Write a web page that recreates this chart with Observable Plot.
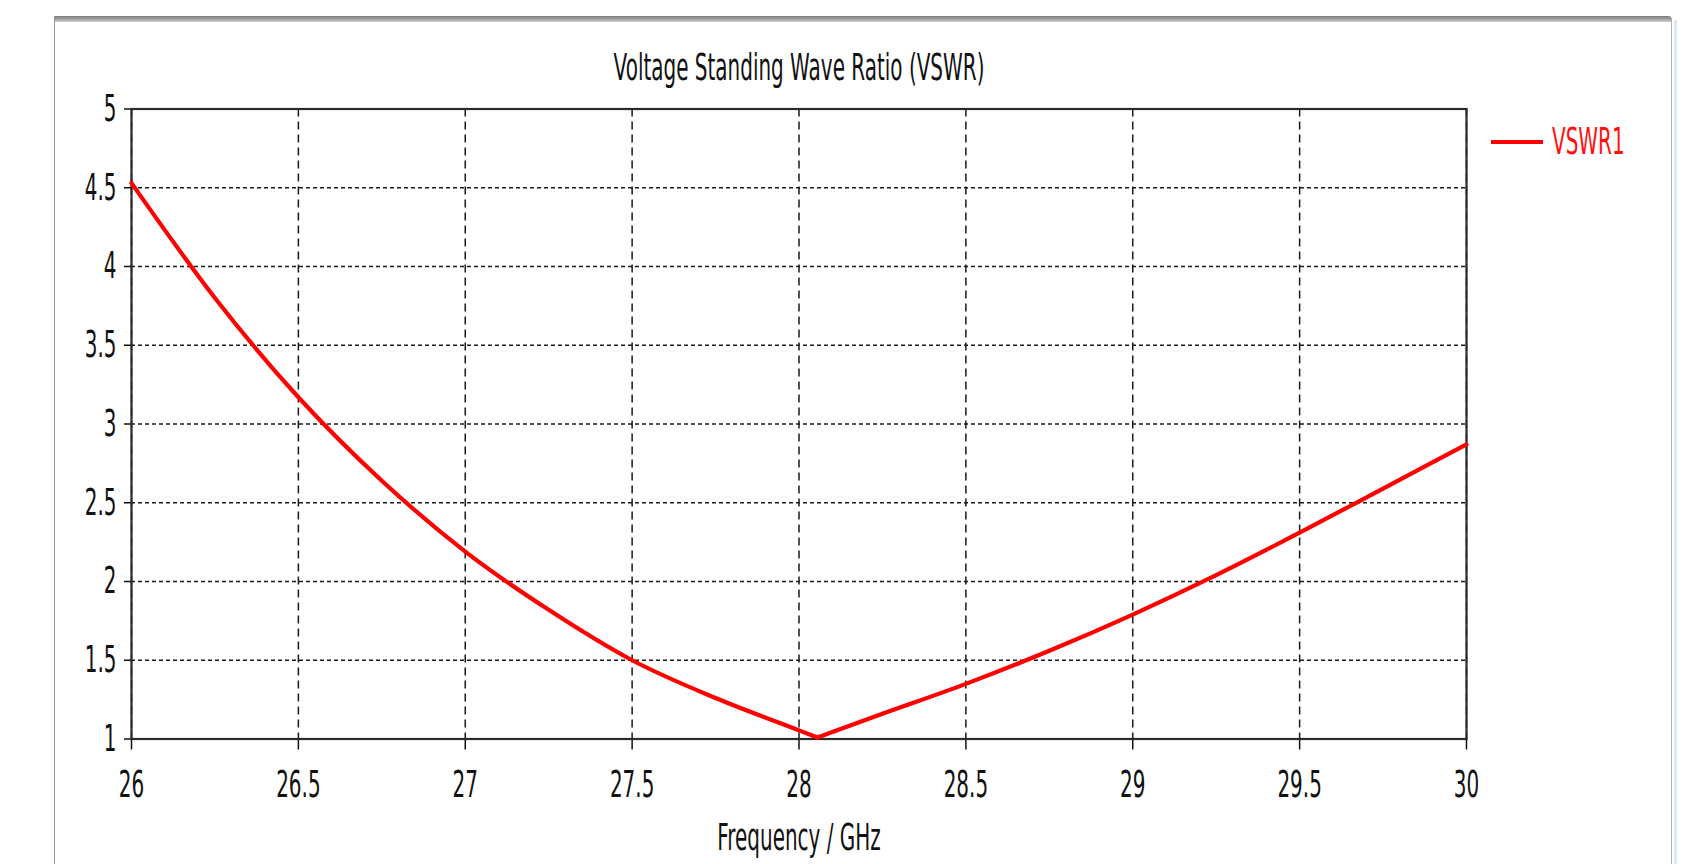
<!DOCTYPE html>
<html>
<head>
<meta charset="utf-8">
<script src="https://cdn.jsdelivr.net/npm/d3@7"></script>
<script src="https://cdn.jsdelivr.net/npm/@observablehq/plot@0.6"></script>
<style>
  html, body { margin: 0; padding: 0; background: #fff; }
  #wrap { position: relative; width: 1695px; height: 864px; overflow: hidden; background: #fff; }
  #panelTop { position: absolute; left: 54px; top: 16px; width: 1618px; height: 6px;
    background: linear-gradient(#7a7a7a, #a8a8a8 60%, #d0d0d0); border-top-right-radius: 4px; }
  #panelLeft { position: absolute; left: 54px; top: 16px; width: 1px; height: 860px; background: #9a9a9a; }
  #panelRight { position: absolute; left: 1671px; top: 20px; width: 1px; height: 850px; background: #b0b0b0; }
  #panelRight2 { position: absolute; left: 1674px; top: 20px; width: 3px; height: 850px; background: #dce8f8; }
  #chart { position: absolute; left: 0; top: 0; }
  #legend { position: absolute; left: 1491px; top: 124px; height: 36px; display: flex; align-items: center; }
  #legend .sw { width: 52px; height: 4px; background: #ff0000; margin-right: 9px; }
  #legend .lt { font-family: "DejaVu Sans", sans-serif; font-size: 37px; color: #ff1010;
    transform: scaleX(0.54); transform-origin: left center; white-space: nowrap; line-height: 36px; }
</style>
</head>
<body>
<div id="wrap">
  <div id="panelTop"></div>
  <div id="panelLeft"></div>
  <div id="panelRight"></div>
  <div id="panelRight2"></div>
  <div id="chart"></div>
  <div id="legend"><div class="sw"></div><div class="lt">VSWR1</div></div>
</div>
<script>
// ---- data ----
const freqGHz = [26.00, 26.25, 26.50, 26.75, 27.00, 27.25, 27.50, 27.75, 28.00, 28.055,
                 28.25, 28.50, 28.75, 29.00, 29.25, 29.50, 29.75, 30.00];
const vswr1   = [4.53, 3.80, 3.17, 2.64, 2.19, 1.82, 1.50, 1.26, 1.055, 1.01,
                 1.16, 1.35, 1.56, 1.79, 2.04, 2.31, 2.59, 2.87];
const xTickValues = [26, 26.5, 27, 27.5, 28, 28.5, 29, 29.5, 30];
const yTickValues = [1, 1.5, 2, 2.5, 3, 3.5, 4, 4.5, 5];
const chartTitle = "Voltage Standing Wave Ratio (VSWR)";
const xLabel = "Frequency / GHz";
const seriesName = "VSWR1";

const rows = freqGHz.map((f, i) => ({f, v: vswr1[i]}));
// split at the minimum so the smooth curve keeps the sharp resonance dip
const iMin = d3.minIndex(vswr1);
const branches = [
  ...rows.slice(0, iMin + 1).map(d => ({...d, b: "L"})),
  ...rows.slice(iMin).map(d => ({...d, b: "R"}))
];
const TEXT_SX = 0.54;

const plot = Plot.plot({
  width: 1695,
  height: 864,
  marginLeft: 131,
  marginRight: 229,
  marginTop: 108.5,
  marginBottom: 125.5,
  x: {domain: [26, 30]},
  y: {domain: [1, 5]},
  style: {fontFamily: "DejaVu Sans, sans-serif", fontSize: "37px", color: "#111", background: "transparent", overflow: "visible"},
  marks: [
    Plot.gridX(xTickValues, {stroke: "#1a1a1a", strokeOpacity: 1, strokeWidth: 1.5, strokeDasharray: "8,5"}),
    Plot.gridY(yTickValues, {stroke: "#1a1a1a", strokeOpacity: 1, strokeWidth: 1.5, strokeDasharray: "4,3"}),
    Plot.axisX(xTickValues, {tickSize: 11, tickPadding: 21, label: null, tickFormat: d => String(d), strokeWidth: 1.5}),
    Plot.axisY(yTickValues, {tickSize: 7, tickPadding: 8, label: null, tickFormat: d => String(d), strokeWidth: 1.5}),
    Plot.frame({stroke: "#2a2a2a", strokeWidth: 2.2}),
    Plot.line(branches, {x: "f", y: "v", z: "b", stroke: "#ff0000", strokeWidth: 4.2, curve: "monotone-x", strokeLinejoin: "round"}),
    Plot.text([chartTitle], {text: d => d, frameAnchor: "top", dy: -41, lineAnchor: "middle", fill: "#111"}),
    Plot.text([xLabel], {text: d => d, frameAnchor: "bottom", dy: 99, lineAnchor: "middle", fill: "#111"})
  ]
});

// condensed look of the original lettering: horizontal scale about each text's anchor x
plot.querySelectorAll("text").forEach(t => {
  const ax = parseFloat(t.getAttribute("x")) || 0;
  const tr = t.getAttribute("transform") || "";
  t.setAttribute("transform", `${tr} translate(${ax},0) scale(${TEXT_SX},1) translate(${-ax},0)`);
});

document.getElementById("chart").appendChild(plot);
document.querySelector("#legend .lt").textContent = seriesName;
</script>
</body>
</html>
